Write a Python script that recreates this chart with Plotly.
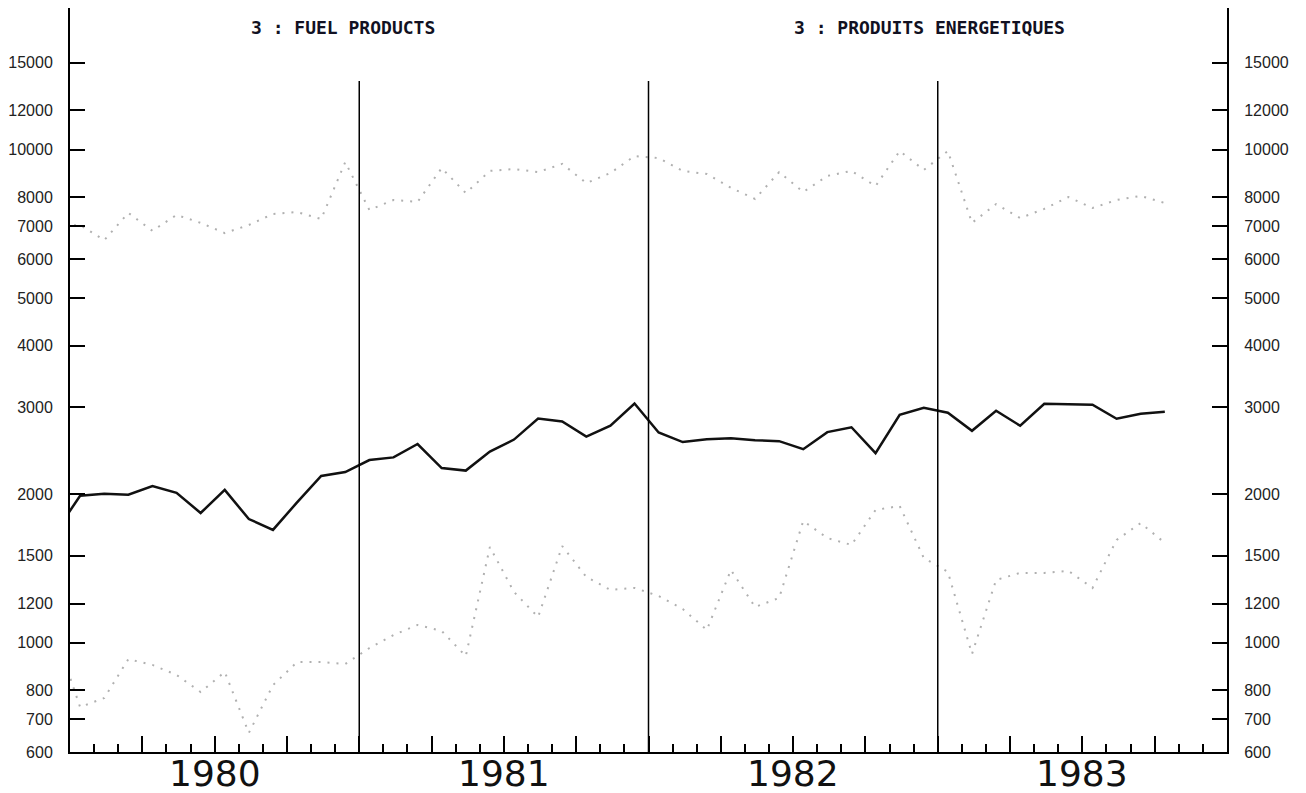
import plotly.graph_objects as go

# ---------------- data (monthly, Dec 1979 .. Oct 1983) ----------------
periods = ["1979-12"] + [f"{y}-{m:02d}" for y in (1980, 1981, 1982, 1983) for m in range(1, 13)][:46]

total = [1682,
         1985, 2003, 1995, 2078, 2012, 1832, 2040, 1781, 1693, 1925, 2177, 2218,
         2346, 2375, 2528, 2260, 2233, 2440, 2581, 2847, 2808, 2618, 2755, 3054,
         2668, 2551, 2585, 2597, 2574, 2562, 2468, 2672, 2734, 2423, 2897, 2994,
         2925, 2689, 2952, 2753, 3051, 3045, 3037, 2844, 2912, 2939]

upper = [7000,
         7030, 6550, 7440, 6840, 7370, 7100, 6770, 7030, 7400, 7470, 7230, 9430,
         7540, 7900, 7830, 9170, 8160, 9050, 9130, 9000, 9350, 8550, 8960, 9700,
         9610, 9050, 8920, 8360, 7940, 9000, 8200, 8840, 9050, 8430, 9930, 9090,
         9930, 7100, 7750, 7260, 7580, 8010, 7610, 7900, 8050, 7790]

lower = [1030,
         740, 772, 926, 901, 860, 794, 872, 656, 820, 913, 913, 905,
         975, 1036, 1086, 1056, 939, 1563, 1267, 1127, 1570, 1359, 1279, 1291,
         1243, 1170, 1061, 1404, 1181, 1232, 1765, 1630, 1578, 1858, 1893, 1485,
         1391, 948, 1340, 1385, 1385, 1398, 1291, 1615, 1748, 1593]

year_labels = ["1980", "1981", "1982", "1983"]
ytick_vals = [600, 700, 800, 1000, 1200, 1500, 2000, 3000, 4000, 5000,
              6000, 7000, 8000, 10000, 12000, 15000]
ytick_text = [str(v) for v in ytick_vals]
title_left = "3 : FUEL PRODUCTS"
title_right = "3 : PRODUITS ENERGETIQUES"

# ---------------- positions ----------------
def to_x(p):
    y, m = p.split("-")
    return int(y) + (int(m) - 1 + 0.42) / 12.0

xs = [to_x(p) for p in periods]
years = [int(y) for y in year_labels]
quarter_ticks = [y + q / 4 for y in years for q in range(1, 4)] + [1981, 1982, 1983]
month_ticks = [y + m / 12 for y in years for m in range(1, 12) if m % 3 != 0]

yrange = [2.7782, 4.2870]
dotted = dict(color="#b0b0b0", width=2, dash="2px,7px")

fig = go.Figure()
fig.add_trace(go.Scatter(x=xs, y=upper, mode="lines", line=dotted, hoverinfo="skip"))
fig.add_trace(go.Scatter(x=xs, y=lower, mode="lines", line=dotted, hoverinfo="skip"))
fig.add_trace(go.Scatter(x=xs, y=total, mode="lines",
                         line=dict(color="#111111", width=2.5)))
fig.add_trace(go.Scatter(x=xs, y=total, mode="lines", yaxis="y2",
                         line=dict(color="rgba(0,0,0,0)", width=0), hoverinfo="skip"))

yaxis_common = dict(
    type="log", range=yrange, tickmode="array", tickvals=ytick_vals, ticktext=ytick_text,
    ticks="inside", ticklen=15, tickwidth=1.5, tickcolor="black",
    showline=True, linecolor="black", linewidth=2, showgrid=False, zeroline=False,
    tickfont=dict(family="Liberation Sans", size=16, color="#222222"),
    ticklabelstandoff=12, automargin=False,
)

# page body has an 8px margin: figure is sized/offset so the plot area lands
# at x 70..1227, y 8..752 of the 1306x793 window
fig.update_layout(
    template="none",
    width=1298, height=785,
    margin=dict(l=62, r=79, t=0, b=41),
    paper_bgcolor="white", plot_bgcolor="white",
    showlegend=False,
    xaxis=dict(range=[1980, 1984], showgrid=False, zeroline=False,
               showline=True, linecolor="black", linewidth=2,
               tickmode="array", tickvals=quarter_ticks, ticks="inside",
               ticklen=16, tickwidth=1.5, tickcolor="black", showticklabels=False,
               minor=dict(tickmode="array", tickvals=month_ticks, ticks="inside",
                          ticklen=8, tickwidth=1.5, tickcolor="black", showgrid=False),
               automargin=False),
    yaxis=dict(**yaxis_common, side="left"),
    yaxis2=dict(**yaxis_common, side="right", overlaying="y", anchor="x"),
)

for y in years[1:]:
    fig.add_shape(type="line", xref="x", yref="paper", x0=y, x1=y, y0=0, y1=0.902,
                  line=dict(color="black", width=1.5))

for lab, y in zip(year_labels, years):
    fig.add_annotation(x=y + 0.5, xref="x", y=-0.029, yref="paper", text=lab,
                       showarrow=False, xanchor="center", yanchor="middle",
                       font=dict(family="DejaVu Sans", size=36, color="#111111"))

for txt, xp in ((title_left, 0.236), (title_right, 0.743)):
    fig.add_annotation(x=xp, xref="paper", y=0.9735, yref="paper", text=f"<b>{txt}</b>",
                       showarrow=False, xanchor="center", yanchor="middle",
                       font=dict(family="DejaVu Sans Mono", size=18, color="#111122"))

fig.write_html("out.html")
